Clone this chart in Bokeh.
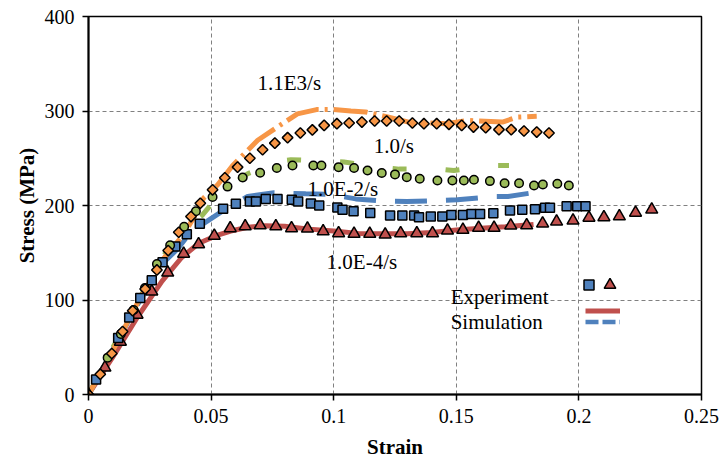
from bokeh.plotting import figure
from bokeh.models import Range1d, FixedTicker, Label, Legend, LegendItem
from bokeh.embed import file_html
from bokeh.resources import INLINE
import numpy as np

# ---------------- data ----------------
x_ticks = [0, 0.05, 0.1, 0.15, 0.2, 0.25]
x_tick_labels = ["0", "0.05", "0.1", "0.15", "0.2", "0.25"]
y_ticks = [0, 100, 200, 300, 400]

# Experiment 1.0E-4/s (triangles)
exp4_x = [0, 0.0067, 0.013, 0.0198, 0.0258, 0.0323, 0.0388, 0.0449, 0.0513, 0.0578, 0.0639,
          0.070, 0.0764, 0.0828, 0.0893, 0.0957, 0.102, 0.1083, 0.1147, 0.121, 0.1273, 0.1339,
          0.1403, 0.1464, 0.1527, 0.1591, 0.1654, 0.1722, 0.1787, 0.1852, 0.1909, 0.1976,
          0.2041, 0.2102, 0.2165, 0.2231, 0.2297]
exp4_y = [0, 28.5, 55.8, 84.4, 109, 129, 149, 159, 168, 176, 178, 179, 178, 176, 175.5, 172.7,
          170.6, 170, 170, 169.2, 170.6, 170.6, 170.6, 173.5, 174.2, 176.3, 176.3, 178.8, 179,
          181, 183, 184, 187, 187.6, 188.5, 192.4, 195.7]

# Experiment 1.0E-2/s (squares)
exp2_x = [0.0031, 0.0121, 0.0166, 0.0211, 0.0258, 0.0302, 0.0354, 0.0401, 0.0454, 0.0549,
          0.0601, 0.0658, 0.0683, 0.0723, 0.0771, 0.0829, 0.0855, 0.0907, 0.0941, 0.1015,
          0.1036, 0.1081, 0.1149, 0.1230, 0.1280, 0.1328, 0.1348, 0.1396, 0.1443, 0.1480,
          0.1527, 0.1562, 0.1597, 0.1651, 0.1719, 0.1769, 0.1821, 0.1862, 0.1882, 0.1950,
          0.1993, 0.2027]
exp2_y = [16, 59.7, 81.5, 102, 121, 140, 156.5, 169.5, 180.6, 196.5, 201.8, 204.2, 204.2, 207,
          207, 206, 204.2, 202, 200, 198, 195.4, 194, 192, 189.4, 189.4, 189.4, 187.6, 188.3,
          188.3, 190, 190, 191, 191, 191.8, 194.7, 195.4, 196, 197.5, 197.5, 199.2, 199.2, 199.2]

# Experiment 1.0/s (circles)
exp0_x = [0.0078, 0.0132, 0.0184, 0.0230, 0.0279, 0.0333, 0.0390, 0.0438, 0.0506, 0.0567,
          0.0629, 0.0700, 0.0768, 0.0832, 0.0917, 0.0950, 0.1020, 0.1083, 0.1138, 0.1196,
          0.1250, 0.1298, 0.1351, 0.1423, 0.1484, 0.1531, 0.1572, 0.1637, 0.1697, 0.1756,
          0.1817, 0.1853, 0.1912, 0.1959]
exp0_y = [39, 64, 89.4, 112.7, 138, 158, 177.5, 194, 209, 220, 229.7, 234.7, 239.6, 242.4, 242.4,
          242.4, 240.6, 239.6, 237, 234.3, 232.9, 230, 228.3, 226.5, 226.5, 226.5, 227.2, 225.8,
          223.6, 223.6, 221.2, 222.3, 223, 221.2]

# Experiment 1.1E3/s (diamonds)
exp3_x = [0, 0.0048, 0.0095, 0.0139, 0.0180, 0.0231, 0.0279, 0.0325, 0.0368, 0.0418, 0.0456,
          0.0506, 0.0556, 0.0608, 0.0658, 0.0710, 0.0760, 0.0812, 0.0864, 0.0913, 0.0961,
          0.1013, 0.1063, 0.1115, 0.1167, 0.1216, 0.1267, 0.1321, 0.1368, 0.1420, 0.1470,
          0.1522, 0.1570, 0.1620, 0.1674, 0.1724, 0.1776, 0.1828, 0.1878]
exp3_y = [0, 21.5, 43.4, 66.7, 88.6, 111.7, 131.8, 152.3, 171.7, 188.3, 202.4, 216.6, 229.4,
          240.6, 250, 259, 266, 271.8, 276.7, 280, 284.8, 286.6, 287.3, 288.3, 289.4, 289.4,
          289.4, 287.3, 286.6, 286.6, 285.9, 284.8, 283, 282.4, 280.3, 280.3, 278.8, 277.7, 276.7]

# Simulations
sim4_x = [0, 0.01, 0.02, 0.03, 0.038, 0.045, 0.052, 0.058, 0.065, 0.072, 0.08, 0.09, 0.10,
          0.11, 0.12, 0.13, 0.14, 0.15, 0.16, 0.17, 0.1815]
sim4_y = [0, 40, 82, 120, 145, 160, 168, 173, 177, 178.5, 178, 175, 173, 170.5, 170, 170,
          171.5, 174, 176, 177.5, 180]

sim2_x = [0, 0.01, 0.02, 0.03, 0.0363, 0.0411, 0.0458, 0.056, 0.0649, 0.0757, 0.0886, 0.0988,
          0.109, 0.122, 0.1298, 0.143, 0.1504, 0.1654, 0.171, 0.1824]
sim2_y = [0, 48, 95, 138, 154, 170, 179, 196.5, 209.5, 213.5, 212.4, 211.7, 207, 204.5, 204.2,
          205.3, 206, 209.5, 209.5, 214]

sim0_x = [0, 0.01, 0.02, 0.03, 0.038, 0.0465, 0.0513, 0.060, 0.0649, 0.0777, 0.0825, 0.0995,
          0.1042, 0.1226, 0.1267, 0.1436, 0.149, 0.1643, 0.1715]
sim0_y = [0, 50, 98, 145, 172, 190, 205, 224.7, 233.6, 247, 248.4, 247, 246, 239.6, 238.5,
          238.5, 237, 242.4, 242.4]

sim3_x = [0, 0.01, 0.02, 0.03, 0.039, 0.043, 0.047, 0.0527, 0.0588, 0.069, 0.077, 0.0852,
          0.093, 0.10, 0.107, 0.113, 0.122, 0.131, 0.146, 0.1545, 0.1688, 0.175, 0.1828]
sim3_y = [0, 47, 97, 142, 170, 187.6, 208, 222, 242.4, 269, 283, 297, 301.5, 301.5, 300, 299,
          293.6, 288, 286.6, 290, 288.3, 293.6, 294.4]

rate_labels = ["1.1E3/s", "1.0/s", "1.0E-2/s", "1.0E-4/s"]
legend_labels = ["Experiment", "Simulation"]

# ---------------- style ----------------
RED = "#C0504D"
BLUE = "#4F81BD"
GREEN = "#9BBB59"
ORANGE = "#F79646"
FONT = "Liberation Serif"

p = figure(width=722, height=465, output_backend="svg", toolbar_location=None,
           x_range=Range1d(0, 0.25), y_range=Range1d(0, 400),
           min_border_left=88, min_border_right=21, min_border_top=16, min_border_bottom=71)
p.background_fill_color = "white"
p.border_fill_color = "white"
p.outline_line_color = "black"
p.outline_line_width = 1.5

for ax in (p.xaxis, p.yaxis):
    ax.axis_line_width = 2
    ax.axis_line_color = "black"
    ax.major_tick_line_width = 1.5
    ax.major_tick_out = 6
    ax.major_tick_in = 0
    ax.minor_tick_line_color = None
    ax.major_label_text_font = FONT
    ax.major_label_text_font_size = "20px"
    ax.major_label_text_color = "black"
    ax.axis_label_text_font = FONT
    ax.axis_label_text_font_size = "21px"
    ax.axis_label_text_font_style = "bold"
    ax.axis_label_text_color = "black"
    ax.major_label_standoff = 8

p.xaxis.ticker = FixedTicker(ticks=x_ticks)
p.xaxis.major_label_overrides = dict(zip(x_ticks, x_tick_labels))
p.yaxis.ticker = FixedTicker(ticks=y_ticks)
p.xaxis.axis_label = "Strain"
p.yaxis.axis_label = "Stress (MPa)"
p.xaxis.axis_label_standoff = 9
p.yaxis.axis_label_standoff = 3

p.xgrid.ticker = FixedTicker(ticks=x_ticks)
p.ygrid.ticker = FixedTicker(ticks=y_ticks)
for g in (p.xgrid, p.ygrid):
    g.grid_line_color = "#808080"
    g.grid_line_dash = "4 3"
    g.grid_line_width = 1

# simulation lines
LW = 5
r_sim4 = p.line(sim4_x, sim4_y, line_color=RED, line_width=LW)
r_sim2 = p.line(sim2_x, sim2_y, line_color=BLUE, line_width=LW, line_dash="32 19")
r_sim0 = p.line(sim0_x, sim0_y, line_color=GREEN, line_width=LW, line_dash="14 39")
r_sim3 = p.line(sim3_x, sim3_y, line_color=ORANGE, line_width=LW, line_dash="34 6 3 6")

# experiments
r_tri = p.scatter(exp4_x, exp4_y, marker="triangle", size=12, fill_color=RED,
                  line_color="black", line_width=1.5)
r_sq = p.scatter(exp2_x, exp2_y, marker="square", size=9, fill_color=BLUE,
                 line_color="black", line_width=1.5)
r_ci = p.scatter(exp0_x, exp0_y, marker="circle", size=8.5, fill_color=GREEN,
                 line_color="black", line_width=1.5)
r_di = p.scatter(exp3_x, exp3_y, marker="square", angle=np.pi / 4, size=7.5,
                 fill_color=ORANGE, line_color="black", line_width=1.5)

# rate annotations
rate_pos = [(0.0819, 330), (0.1245, 263), (0.1037, 217.5), (0.1115, 139.7)]
for txt, (lx, ly) in zip(rate_labels, rate_pos):
    p.add_layout(Label(x=lx, y=ly, text=txt, text_font=FONT, text_font_size="21px",
                       text_align="center", text_baseline="middle", text_color="black"))

# legend texts
for txt, ly in zip(legend_labels, [102.8, 76.2]):
    p.add_layout(Label(x=0.1477, y=ly, text=txt, text_font=FONT, text_font_size="21px",
                       text_align="left", text_baseline="alphabetic", text_color="black"))

# legend glyphs
leg_kw = dict(label_width=0, label_standoff=0, label_height=0, spacing=0, padding=0, margin=0,
              border_line_color=None, background_fill_alpha=0, label_text_font_size="1px")
leg_sq = Legend(items=[LegendItem(label="", renderers=[r_sq])],
                location=(488, 97), glyph_width=25, glyph_height=25, **leg_kw)
leg_tri = Legend(items=[LegendItem(label="", renderers=[r_tri])],
                 location=(507, 95), glyph_width=29, glyph_height=29, **leg_kw)
p.add_layout(leg_sq)
p.add_layout(leg_tri)

r_leg_blue = p.line(sim2_x, sim2_y, line_color=BLUE, line_width=4.5, line_dash="13 4",
                    visible=False)
leg_l = Legend(items=[LegendItem(label="", renderers=[r_sim4]),
                      LegendItem(label="", renderers=[r_leg_blue])],
               orientation="vertical", location=(497, 67), glyph_width=35, glyph_height=11,
               **leg_kw)
p.add_layout(leg_l)

open("out.html", "w").write(file_html(p, INLINE))
